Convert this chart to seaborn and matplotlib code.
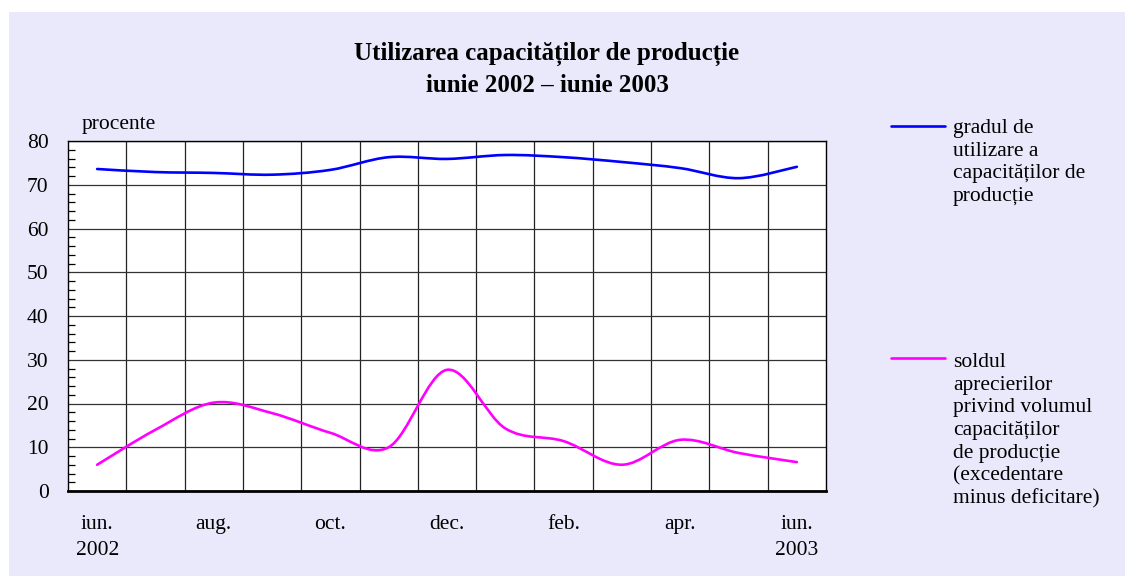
import numpy as np
import matplotlib
matplotlib.use("Agg")
import matplotlib.pyplot as plt
import seaborn as sns
from matplotlib.path import Path
from matplotlib.patches import PathPatch, Rectangle
from matplotlib.lines import Line2D

# data (monthly, iunie 2002 - iunie 2003)
months = ["iun.", "iul.", "aug.", "sep.", "oct.", "nov.", "dec.",
          "ian.", "feb.", "mar.", "apr.", "mai", "iun."]
years = {0: "2002", 12: "2003"}
utilizare = [73.6, 72.9, 72.7, 72.3, 73.4, 76.3, 75.9,
             76.8, 76.3, 75.2, 73.8, 71.5, 74.1]
sold = [6.0, 14.0, 20.2, 17.8, 13.3, 10.0, 27.7,
        14.3, 11.4, 6.0, 11.7, 8.7, 6.6]

title_1 = "Utilizarea capacităților de producție"
title_2 = "iunie 2002 – iunie 2003"
label_util = "gradul de\nutilizare a\ncapacităților de\nproducție"
label_sold = ("soldul\naprecierilor\nprivind volumul\ncapacităților\n"
              "de producție\n(excedentare\nminus deficitare)")

BG = "#e9e9fb"
BLUE = "#0000ff"
MAGENTA = "#ff00ff"

sns.set_theme(style="white")
plt.rcParams["font.family"] = ["Liberation Serif", "DejaVu Serif"]
plt.rcParams["text.color"] = "black"
plt.rcParams["xtick.color"] = "black"
plt.rcParams["ytick.color"] = "black"


def smooth_path(x, y):
    # excel-style smoothed line: bezier segments through the data points
    pts = np.column_stack([x, y])
    ext = np.vstack([pts[0], pts, pts[-1]])
    verts = [pts[0]]
    codes = [Path.MOVETO]
    for i in range(len(pts) - 1):
        p0, p1, p2, p3 = ext[i], ext[i + 1], ext[i + 2], ext[i + 3]
        verts += [p1 + (p2 - p0) / 6, p2 - (p3 - p1) / 6, p2]
        codes += [Path.CURVE4] * 3
    return Path(verts, codes)


W, H = 1125, 576
fig = plt.figure(figsize=(W / 100, H / 100), dpi=100, facecolor=BG)
fig.add_artist(Rectangle((0, 0), 9 / W, 1, transform=fig.transFigure,
                         facecolor="white", edgecolor="none", zorder=0))
fig.add_artist(Rectangle((0, 1 - 12 / H), 1, 12 / H, transform=fig.transFigure,
                         facecolor="white", edgecolor="none", zorder=0))

ax = fig.add_axes([68 / W, 85 / H, 758 / W, 350 / H])
ax.set_facecolor("white")

x = np.arange(len(months))
for values, color in [(utilizare, BLUE), (sold, MAGENTA)]:
    ax.add_patch(PathPatch(smooth_path(x, values), facecolor="none",
                           edgecolor=color, lw=1.9, zorder=3,
                           capstyle="round", joinstyle="round"))

ax.set_xlim(-0.5, len(months) - 0.5)
ax.set_ylim(0, 80)

ax.set_yticks(np.arange(0, 81, 10))
ax.set_yticks(np.arange(0, 81, 2), minor=True)
ax.set_xticks(x[::2])
ax.set_xticklabels([m + ("\n" + years[i] if i in years else "")
                    for i, m in zip(x[::2], months[::2])])
ax.set_xticks(np.arange(0.5, len(months) - 1, 1), minor=True)

ax.grid(which="major", axis="y", color="#333333", lw=0.9)
ax.grid(which="minor", axis="x", color="#222222", lw=0.9)
ax.grid(which="major", axis="x", visible=False)

ax.tick_params(axis="y", which="major", direction="out", length=5,
               width=0.9, color="black", pad=9, labelsize=15.5,
               labelcolor="black")
ax.tick_params(axis="y", which="minor", direction="in", length=5,
               width=0.9, color="black", left=True)
ax.tick_params(axis="x", which="both", length=0, pad=17, labelsize=15.5,
               labelcolor="black")
for lab in ax.get_xticklabels():
    lab.set_linespacing(1.5)

for side, spine in ax.spines.items():
    spine.set_visible(True)
    spine.set_color("black")
    spine.set_linewidth(2.0 if side == "bottom" else 1.0)

fig.text(547 / W, 1 - 54 / H, title_1, ha="center", va="center",
         fontsize=18, fontweight="bold")
fig.text(547 / W, 1 - 85 / H, title_2, ha="center", va="center",
         fontsize=18, fontweight="bold")
fig.text(82 / W, 1 - 124 / H, "procente", ha="left", va="center",
         fontsize=15.5)

# legend drawn by hand, as in the original
for y_line, y_text, label, color in [(126, 119, label_util, BLUE),
                                     (358, 353, label_sold, MAGENTA)]:
    fig.add_artist(Line2D([891 / W, 945 / W], [1 - y_line / H] * 2,
                          transform=fig.transFigure, color=color, lw=1.9))
    fig.text(953 / W, 1 - y_text / H, label, ha="left", va="top",
             fontsize=15.5, linespacing=1.26)

fig.savefig("out.png", dpi=100, facecolor=BG)
